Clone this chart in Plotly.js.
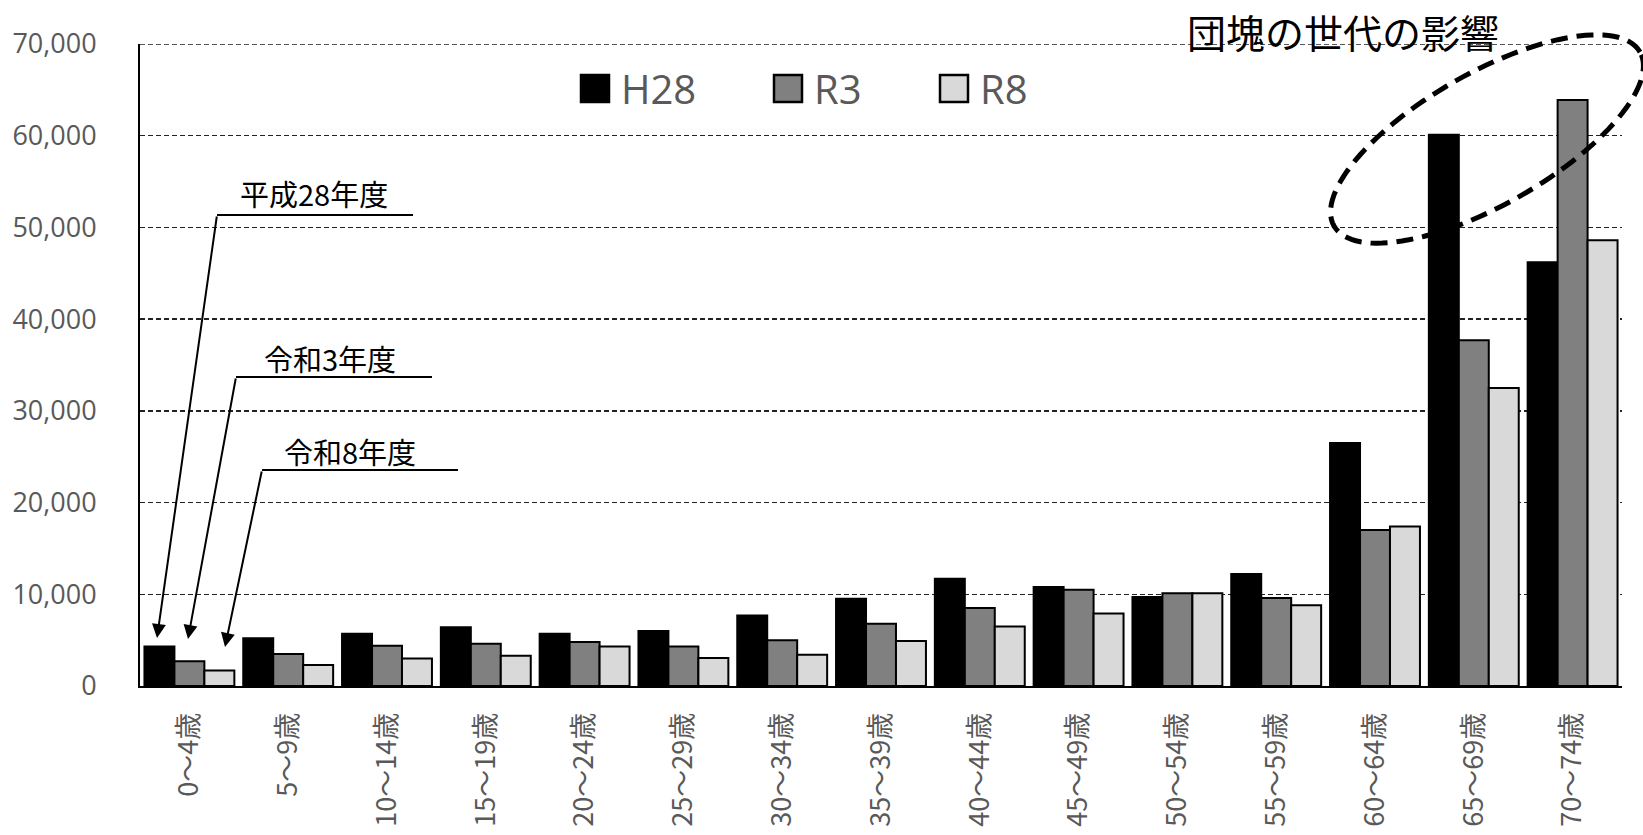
<!DOCTYPE html>
<html>
<head>
<meta charset="utf-8">
<script src="https://cdn.plot.ly/plotly-3.0.1.min.js"></script>
<style>html,body{margin:0;padding:0;background:#fff;}#chart{width:1643px;height:835px;}</style>
</head>
<body>
<div id="chart"></div>
<script>
// ---- data ----
const categories = ['0～4歳','5～9歳','10～14歳','15～19歳','20～24歳','25～29歳','30～34歳','35～39歳','40～44歳','45～49歳','50～54歳','55～59歳','60～64歳','65～69歳','70～74歳'];
const seriesNames = ['H28','R3','R8'];
const valuesH28 = [4300, 5200, 5700, 6400, 5700, 6000, 7700, 9500, 11700, 10800, 9700, 12200, 26500, 60100, 46200];
const valuesR3  = [2700, 3500, 4400, 4600, 4800, 4300, 5000, 6800, 8500, 10500, 10100, 9600, 17000, 37700, 63900];
const valuesR8  = [1700, 2300, 3000, 3300, 4300, 3050, 3400, 4900, 6500, 7900, 10100, 8800, 17400, 32500, 48600];
const yTicks = [0, 10000, 20000, 30000, 40000, 50000, 60000, 70000];
const yMax = 70000;
const titleText = '団塊の世代の影響';
const calloutLabels = ['平成28年度', '令和3年度', '令和8年度'];

// ---- layout geometry (pixels) ----
const W = 1643, H = 835;
const L = 140, R = 1622, T = 44, B = 686;
const px = X => (X - L) / (R - L);
const py = Y => (B - Y) / (B - T);

const colors = ['#000000', '#808080', '#d9d9d9'];
const seriesValues = [valuesH28, valuesR3, valuesR8];
const textGray = '#595959';
const fontFam = '"Open Sans", "Noto Sans CJK JP", sans-serif';
const cjkFam = '"Noto Sans CJK JP", "Open Sans", sans-serif';

const traces = seriesNames.map((n, i) => ({
  type: 'bar', name: n, x: categories, y: seriesValues[i],
  marker: {color: colors[i], line: {color: '#000', width: 2}},
  showlegend: false, hoverinfo: 'skip'
}));

const shapes = [];
const annotations = [];

// top gridline at the range end
shapes.push({type: 'line', xref: 'paper', yref: 'y', x0: 0, x1: 1, y0: yMax, y1: yMax,
  line: {color: '#222', width: 1.5, dash: '5px,3px'}, layer: 'below'});

// title as annotation
annotations.push({xref: 'paper', yref: 'paper', x: px(1343), y: py(31),
  xanchor: 'center', yanchor: 'middle', showarrow: false, text: titleText,
  font: {family: cjkFam, size: 39, color: '#000'}});

// custom legend (large squares)
const legendItems = [
  {sx: 581, tx: 619},
  {sx: 774, tx: 812},
  {sx: 940, tx: 978}
];
legendItems.forEach((it, i) => {
  shapes.push({type: 'rect', xref: 'paper', yref: 'paper',
    x0: px(it.sx), x1: px(it.sx + 28), y0: py(75), y1: py(102),
    fillcolor: colors[i], line: {color: '#000', width: 2.5}});
  annotations.push({xref: 'paper', yref: 'paper', x: px(it.tx), y: py(88),
    xanchor: 'left', yanchor: 'middle', showarrow: false, text: seriesNames[i],
    font: {family: fontFam, size: 40, color: textGray}});
});

// callouts with arrows
const callouts = [
  {label: calloutLabels[0], tx: 314, ty: 193, lineY: 215, lx0: 217, lx1: 413, tipX: 157, tipY: 638},
  {label: calloutLabels[1], tx: 330, ty: 358, lineY: 377, lx0: 236, lx1: 432, tipX: 188, tipY: 639},
  {label: calloutLabels[2], tx: 350, ty: 451, lineY: 470, lx0: 262, lx1: 458, tipX: 225, tipY: 647}
];
callouts.forEach(c => {
  shapes.push({type: 'line', xref: 'paper', yref: 'paper',
    x0: px(c.lx0), x1: px(c.lx1), y0: py(c.lineY), y1: py(c.lineY),
    line: {color: '#000', width: 2}});
  annotations.push({xref: 'paper', yref: 'paper', x: px(c.tx), y: py(c.ty),
    xanchor: 'center', yanchor: 'middle', showarrow: false, text: c.label,
    font: {family: cjkFam, size: 29, color: '#000'}});
  annotations.push({xref: 'paper', yref: 'paper', x: px(c.tipX), y: py(c.tipY),
    axref: 'pixel', ayref: 'pixel', ax: c.lx0 - c.tipX, ay: c.lineY - c.tipY,
    showarrow: true, arrowhead: 2, arrowsize: 1.4, arrowwidth: 2, arrowcolor: '#000', text: ''});
});

// dashed ellipse (annotation highlight)
(function(){
  const cx = 1487, cy = 139, a = 176, b = 66, th = 29.6 * Math.PI / 180;
  let d = '';
  const n = 120;
  for (let k = 0; k <= n; k++) {
    const t = 2 * Math.PI * k / n;
    const X = cx + a * Math.cos(t) * Math.cos(th) - b * Math.sin(t) * Math.sin(th);
    const Y = cy - (a * Math.cos(t) * Math.sin(th) + b * Math.sin(t) * Math.cos(th));
    d += (k === 0 ? 'M' : 'L') + px(X).toFixed(5) + ',' + py(Y).toFixed(5);
  }
  d += 'Z';
  shapes.push({type: 'path', xref: 'paper', yref: 'paper', path: d,
    line: {color: '#000', width: 5, dash: '17px,9px'}, fillcolor: 'rgba(0,0,0,0)'});
})();

const layout = {
  width: W, height: H, autosize: false,
  margin: {l: L, r: W - R, t: T, b: H - B, pad: 0},
  paper_bgcolor: '#fff', plot_bgcolor: '#fff',
  barmode: 'group', bargap: 0.09, bargroupgap: 0,
  xaxis: {
    type: 'category', showgrid: false, zeroline: false,
    showline: true, linecolor: '#000', linewidth: 2,
    ticks: '', tickangle: -90, ticklabelstandoff: 14,
    tickfont: {family: cjkFam, size: 27, color: textGray}
  },
  yaxis: {
    range: [0, yMax], tickvals: yTicks, tickformat: ',d',
    showgrid: true, gridcolor: '#222', gridwidth: 1.5, griddash: '5px,3px',
    zeroline: false, showline: true, linecolor: '#000', linewidth: 2,
    ticks: '', ticklabelstandoff: 36,
    tickfont: {family: fontFam, size: 27, color: textGray}
  },
  shapes: shapes,
  annotations: annotations
};

Plotly.newPlot('chart', traces, layout, {staticPlot: true, displayModeBar: false});
</script>
</body>
</html>
